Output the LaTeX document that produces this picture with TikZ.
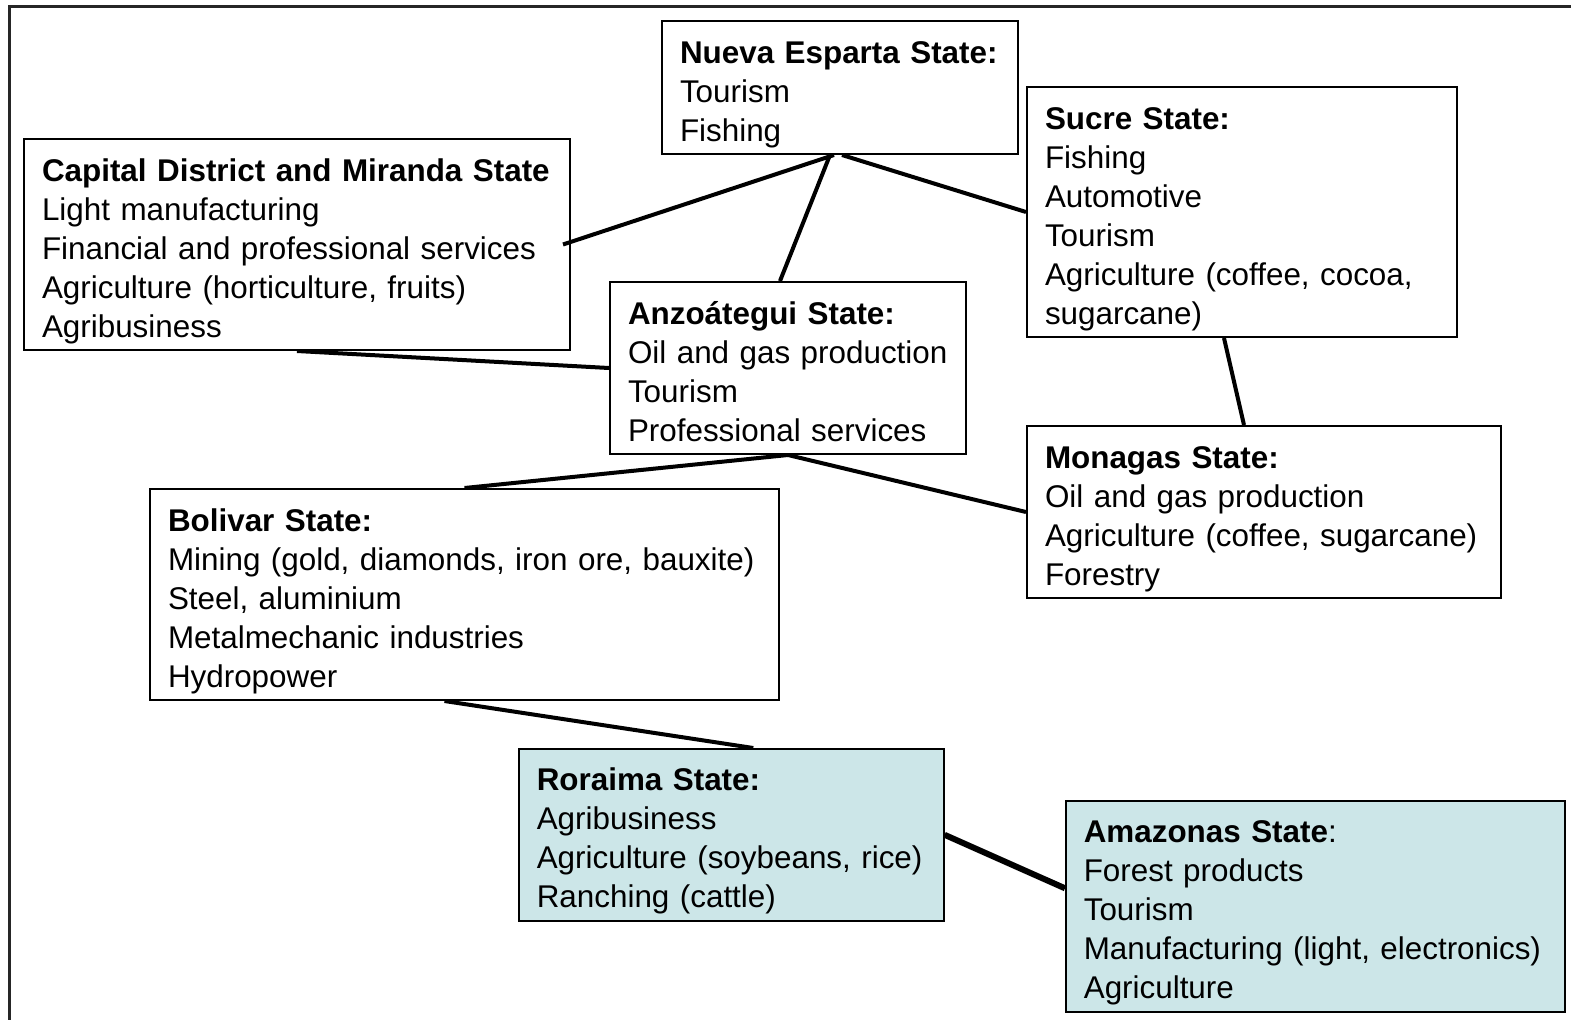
\documentclass[tikz,border=0pt]{standalone}
\usepackage{fontspec}
\setmainfont{Liberation Sans}
\definecolor{newfill}{RGB}{204,230,232}

\begin{document}
\begin{tikzpicture}[x=0.5pt,y=-0.5pt,
    state/.style={draw,line width=1pt,anchor=north west,align=left,
      inner xsep=9pt,inner ysep=0pt,text height=21pt,
      font=\fontsize{15.7}{19.5}\selectfont},
    newstate/.style={state,fill=newfill,line width=0.8pt},
    link/.style={line width=2pt}]
\useasboundingbox (0,0) rectangle (1571,1019);
\clip (0,0) rectangle (1571,1019);
\draw[line width=1.4pt,black!85] (9.5,6.5) rectangle (1600,1050);

\node[state,text width=160pt,text depth=45.5pt] (nes) at (661,20)
  {\textbf{Nueva Esparta State:}\\Tourism\\Fishing};
\node[state,text width=197pt,text depth=104pt] (suc) at (1026,86)
  {\textbf{Sucre State:}\\Fishing\\Automotive\\Tourism\\Agriculture (coffee, cocoa,\\sugarcane)};
\node[state,text width=255pt,text depth=84.5pt] (cap) at (23,138)
  {\textbf{Capital District and Miranda State}\\Light manufacturing\\Financial and professional services\\Agriculture (horticulture, fruits)\\Agribusiness};
\node[state,text width=160pt,text depth=65pt] (anz) at (609,281)
  {\textbf{Anzoátegui State:}\\Oil and gas production\\Tourism\\Professional services};
\node[state,text width=219pt,text depth=65pt] (mon) at (1026,425)
  {\textbf{Monagas State:}\\Oil and gas production\\Agriculture (coffee, sugarcane)\\Forestry};
\node[state,text width=296.5pt,text depth=84.5pt] (bol) at (149,488)
  {\textbf{Bolivar State:}\\Mining (gold, diamonds, iron ore, bauxite)\\Steel, aluminium\\Metalmechanic industries\\Hydropower};
\node[newstate,text width=194.5pt,text depth=65pt] (ror) at (518,748)
  {\textbf{Roraima State:}\\Agribusiness\\Agriculture (soybeans, rice)\\Ranching (cattle)};
\node[newstate,text width=231.5pt,text depth=84.5pt] (ama) at (1065,800)
  {\textbf{Amazonas State}:\\Forest products\\Tourism\\Manufacturing (light, electronics)\\Agriculture};

\draw[link] ([xshift=-3pt]nes.south) -- ([xshift=-4pt]cap.east);
\draw[link] ([xshift=-5pt]nes.south) -- ([xshift=-4pt]anz.north);
\draw[link] ([xshift=1pt]nes.south) -- (suc.west);
\draw[link] (cap.south) -- (anz.west);
\draw[link] ([xshift=-9pt]suc.south) -- ([xshift=-10pt]mon.north);
\draw[link] (anz.south) -- (bol.north);
\draw[link] (anz.south) -- (mon.west);
\draw[link] ([xshift=-10pt]bol.south) -- ([xshift=11pt]ror.north);
\draw[link,line width=3pt] (ror.east) -- ([yshift=9pt]ama.west);
\end{tikzpicture}
\end{document}
